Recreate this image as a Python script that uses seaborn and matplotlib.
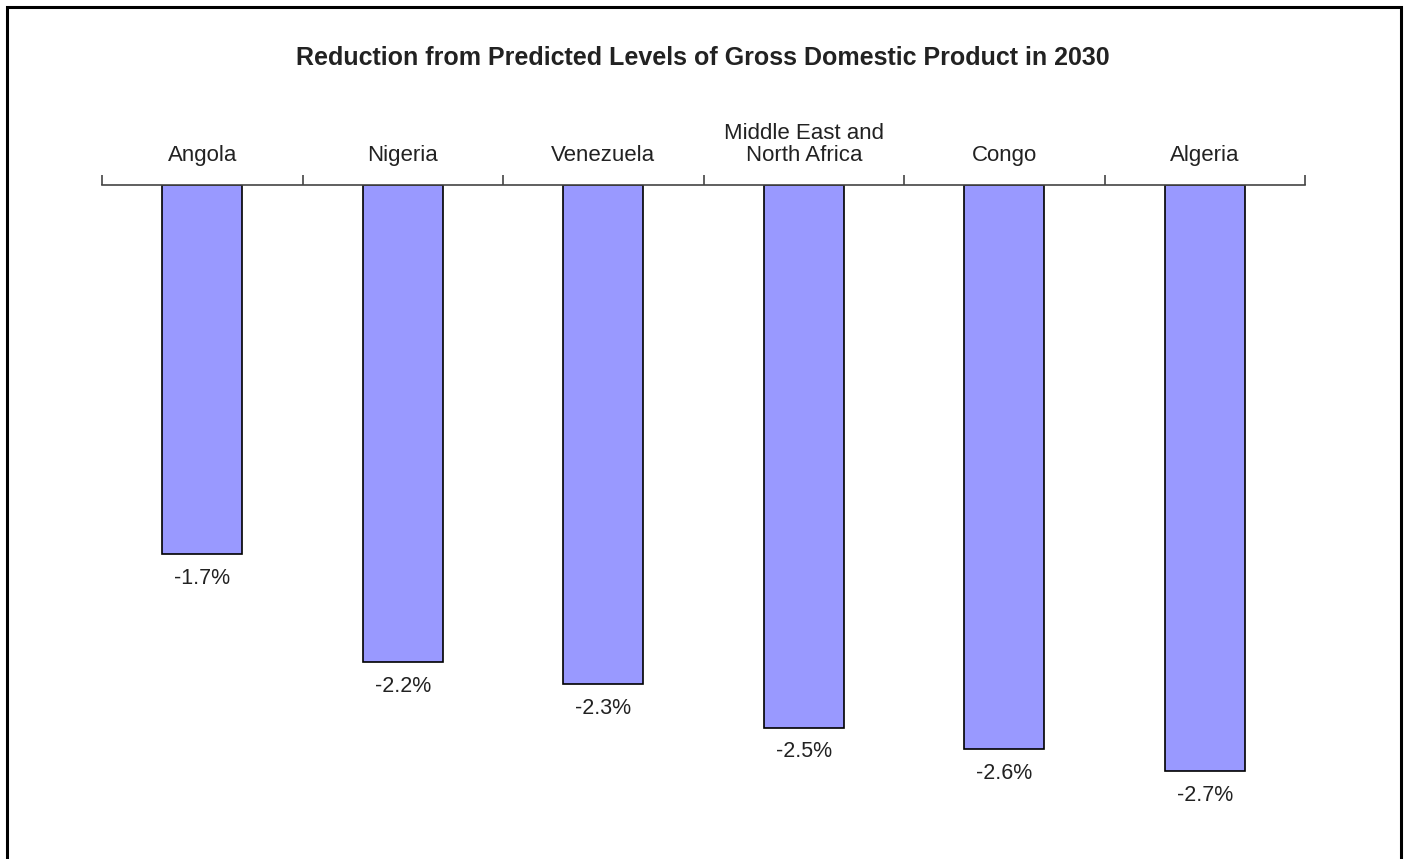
import matplotlib
matplotlib.use("Agg")
import matplotlib.pyplot as plt
import pandas as pd
import seaborn as sns
from matplotlib.patches import Rectangle

# ── data ─────────────────────────────────────────────────────────────────────
regions = ["Angola", "Nigeria", "Venezuela", "Middle East and\nNorth Africa", "Congo", "Algeria"]
gdp_change = [-1.7, -2.2, -2.3, -2.5, -2.6, -2.7]
value_labels = ["-1.7%", "-2.2%", "-2.3%", "-2.5%", "-2.6%", "-2.7%"]

df = pd.DataFrame({"region": regions, "change": gdp_change})

# ── style ────────────────────────────────────────────────────────────────────
sns.set_style("white")
plt.rcParams["font.family"] = ["Liberation Sans", "DejaVu Sans"]
TEXT = "#222222"

W, H = 1406, 859
fig = plt.figure(figsize=(W / 100, H / 100), dpi=100)
ax = fig.add_axes([102 / W, 0, (1305 - 102) / W, (H - 185) / H])

sns.barplot(data=df, x="region", y="change", color="#9999FF", width=0.4,
            edgecolor="black", linewidth=1.2, saturation=1, ax=ax)

ax.set_xlim(-0.5, len(regions) - 0.5)
ax.set_ylim(-(H - 185) / 217.0, 0)

# value labels under each bar
for i, (v, lab) in enumerate(zip(gdp_change, value_labels)):
    ax.annotate(lab, (i, v), xytext=(0, -17.5), textcoords="offset points",
                ha="center", va="center", fontsize=15.5, color=TEXT)

# category axis on top, ticks at category boundaries
for s in ["left", "right", "bottom"]:
    ax.spines[s].set_visible(False)
ax.spines["top"].set_color("#444444")
ax.spines["top"].set_linewidth(1.2)
ax.set_yticks([])
ax.xaxis.tick_top()
ax.set_xticks([i + 0.5 for i in range(-1, len(regions))], minor=False)
ax.set_xticklabels([])
ax.tick_params(axis="x", which="major", direction="out", length=7, width=1.2,
               color="#444444", top=True, bottom=False)
ax.set_xticks(range(len(regions)), minor=True)
ax.set_xticklabels(regions, minor=True, fontsize=16, color=TEXT, linespacing=1.05)
ax.tick_params(axis="x", which="minor", length=0, pad=14, top=True, bottom=False,
               labeltop=True, labelbottom=False)
ax.set_xlabel("")
ax.set_ylabel("")

fig.text(0.5, 1 - 58 / H, "Reduction from Predicted Levels of Gross Domestic Product in 2030",
         ha="center", va="center", fontsize=18, fontweight="bold", color=TEXT)

# frame round the chart area (bottom edge falls outside the image)
fig.patches.append(Rectangle((7.5 / W, -0.05), (1401 - 7.5) / W, 1.05 - 7.5 / H,
                             transform=fig.transFigure, fill=False,
                             edgecolor="black", linewidth=2.2))

fig.savefig("out.png", dpi=100)
